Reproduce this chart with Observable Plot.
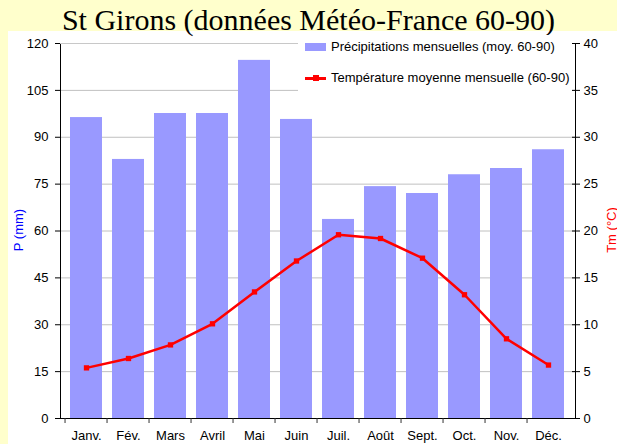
<!DOCTYPE html>
<html><head><meta charset="utf-8">
<script src="https://cdn.jsdelivr.net/npm/d3@7"></script>
<script src="https://cdn.jsdelivr.net/npm/@observablehq/plot@0.6"></script>
<style>
html,body{margin:0;padding:0;background:#ffffcc;width:617px;height:444px;overflow:hidden;font-family:Arial,"Liberation Sans",sans-serif;}
#panel{position:absolute;left:8px;top:31px;width:609px;height:413px;background:#fff;}
#chart{position:absolute;left:0;top:0;}
.serif{position:absolute;font-family:"Liberation Serif","Times New Roman",serif;white-space:nowrap;color:#000;}
#title{left:0;width:617px;text-align:center;top:5px;font-size:30px;line-height:30px;}
#legend{position:absolute;left:298px;top:35px;width:274px;height:61px;background:#fff;font-size:13px;}
.li{position:absolute;left:0;height:14px;line-height:14px;white-space:nowrap;}
.li span{position:absolute;left:33px;top:0;}
.patch{position:absolute;left:7px;top:3px;width:21px;height:8px;background:#9999ff;}
.lline{position:absolute;left:7px;top:6px;width:21px;height:2.5px;background:#ff0000;}
.lsq{position:absolute;left:14.5px;top:4px;width:6px;height:6px;background:#ff0000;}
.ylab{position:absolute;font-size:13px;white-space:nowrap;transform:translate(-50%,-50%) rotate(-90deg);}
</style></head>
<body>
<div id="panel"></div>
<div id="chart"></div>
<div class="serif" id="title">St Girons (données Météo-France 60-90)</div>
<div id="legend">
  <div class="li" style="top:5px"><div class="patch"></div><span>Précipitations mensuelles (moy. 60-90)</span></div>
  <div class="li" style="top:36px"><div class="lline"></div><div class="lsq"></div><span>Température moyenne mensuelle (60-90)</span></div>
</div>
<div class="ylab" style="left:18px;top:230px;color:#0000ff">P (mm)</div>
<div class="ylab" style="left:611px;top:230px;color:#ff0000">Tm (°C)</div>
<script>
const months = ["Janv.","Fév.","Mars","Avril","Mai","Juin","Juil.","Août","Sept.","Oct.","Nov.","Déc."];
const precip = [96.3, 82.9, 97.6, 97.6, 114.6, 95.7, 63.7, 74.2, 72, 78, 80, 86];
const temp = [5.4, 6.4, 7.85, 10.1, 13.5, 16.8, 19.6, 19.2, 17.1, 13.2, 8.5, 5.7];
const pTicks = [0, 15, 30, 45, 60, 75, 90, 105, 120];
const tTicks = [0, 5, 10, 15, 20, 25, 30, 35, 40];

const tFactor = 120 / 40;
const data = months.map((m, i) => ({m, p: precip[i], t: temp[i]}));
const W = 617, H = 444, mL = 60, mR = 42, mT = 43, mB = 26;
const step = (W - mL - mR) / months.length;

const chart = Plot.plot({
  width: W, height: H,
  marginLeft: mL, marginRight: mR, marginTop: mT, marginBottom: mB,
  style: {background: "transparent", fontFamily: "Arial, 'Liberation Sans', sans-serif", fontSize: "13px", color: "#000"},
  x: {domain: months, paddingInner: 0.23, paddingOuter: 0.115, axis: null},
  y: {domain: [0, 120], axis: null},
  marks: [
    Plot.gridY(pTicks.slice(1), {stroke: "#c0c0c0", strokeOpacity: 1}),
    Plot.barY(data, {x: "m", y: "p", fill: "#9999ff"}),
    Plot.frame({stroke: "#000"}),
    Plot.ruleY([120], {stroke: "#c8c8c8"}),
    Plot.axisY(pTicks, {anchor: "left", tickSize: 5, tickPadding: 7, fontSize: 13, label: null}),
    Plot.axisY(tTicks.map(v => v * tFactor), {anchor: "right", tickSize: 8, dx: -4, tickFormat: () => "", label: null}),
    Plot.axisY(tTicks.map(v => v * tFactor), {anchor: "right", tickSize: 0, tickPadding: 8, fontSize: 13, label: null, tickFormat: d => String(Math.round(d / tFactor))}),
    Plot.axisX(months, {anchor: "bottom", tickSize: 5, dx: -step / 2, tickFormat: () => "", stroke: "#333", label: null}),
    Plot.axisX(months, {anchor: "bottom", tickSize: 0, tickPadding: 12, fontSize: 13, label: null}),
    Plot.line(data, {x: "m", y: d => d.t * tFactor, stroke: "#ff0000", strokeWidth: 2.5}),
    Plot.dot(data, {x: "m", y: d => d.t * tFactor, symbol: "square", r: 3, fill: "#ff0000"})
  ]
});
document.getElementById("chart").appendChild(chart);
</script>
</body></html>
